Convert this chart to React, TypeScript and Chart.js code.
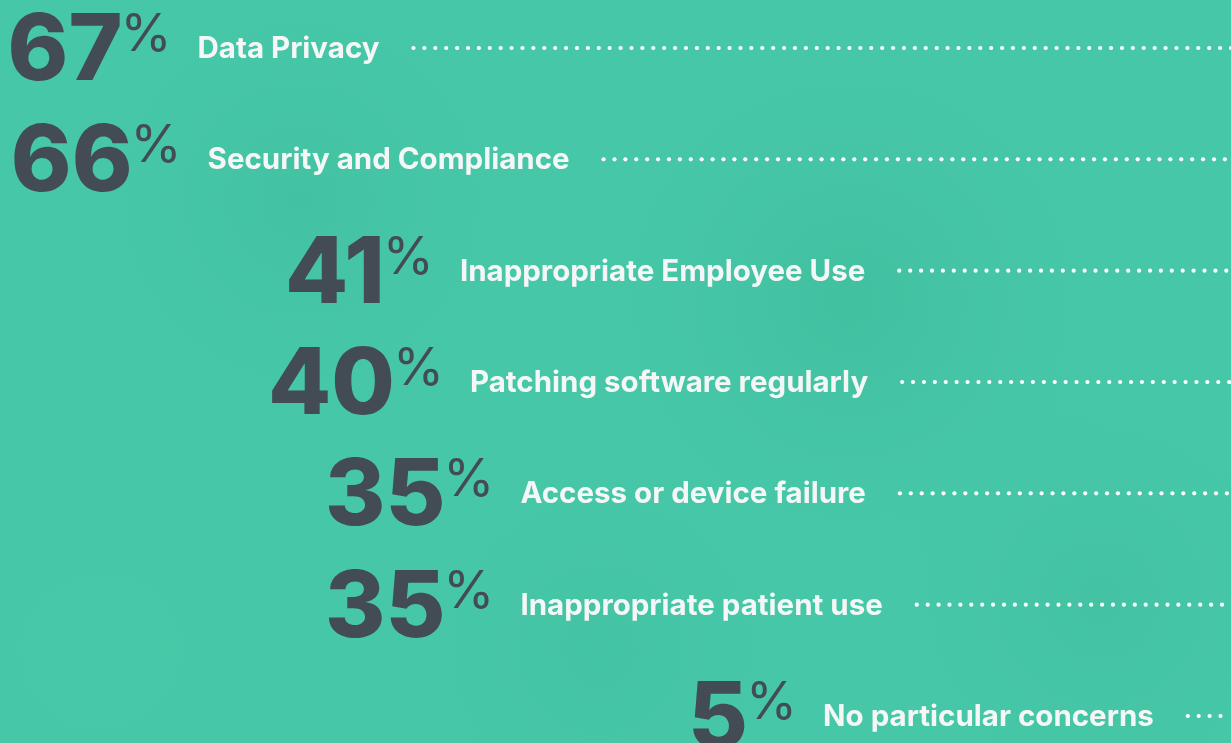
import React, { useEffect, useRef } from "react";
import { Chart, registerables } from "chart.js";

Chart.register(...registerables);

const categories = [
  "Data Privacy",
  "Security and Compliance",
  "Inappropriate Employee Use",
  "Patching software regularly",
  "Access or device failure",
  "Inappropriate patient use",
  "No particular concerns",
];
const values = [67, 66, 41, 40, 35, 35, 5];

const NUM_COLOR = "#434b55";
const LABEL_COLOR = "#f4f7f6";
const BG = "#46c7a7";

const bgPlugin = {
  id: "bgPlugin",
  beforeDraw(chart: any) {
    const { ctx, width, height } = chart;
    ctx.save();
    ctx.fillStyle = BG;
    ctx.fillRect(0, 0, width, height);
    const blobs = [
      [300, 200, 260, "rgba(60,185,152,0.35)"],
      [850, 300, 300, "rgba(58,180,148,0.35)"],
      [1100, 600, 260, "rgba(60,185,152,0.3)"],
      [100, 650, 220, "rgba(74,206,172,0.3)"],
      [600, 650, 240, "rgba(60,185,152,0.25)"],
    ];
    blobs.forEach(([x, y, r, c]: any) => {
      const g = ctx.createRadialGradient(x, y, 0, x, y, r);
      g.addColorStop(0, c);
      g.addColorStop(1, "rgba(70,199,167,0)");
      ctx.fillStyle = g;
      ctx.fillRect(0, 0, width, height);
    });
    ctx.restore();
  },
};

const labelPlugin = {
  id: "labelPlugin",
  afterDatasetsDraw(chart: any) {
    const { ctx, width } = chart;
    const meta = chart.getDatasetMeta(0);
    ctx.save();
    meta.data.forEach((el: any, i: number) => {
      const x = el.x;
      const y = el.y;
      ctx.textAlign = "right";
      ctx.textBaseline = "alphabetic";
      ctx.fillStyle = NUM_COLOR;
      ctx.font = "400 52px Inter";
      const pw = ctx.measureText("%").width;
      ctx.fillText("%", x, y + 4);
      ctx.font = "800 92px Inter";
      ctx.fillText(String(values[i]), x - pw + 2, y + 33);

      ctx.textAlign = "left";
      ctx.fillStyle = LABEL_COLOR;
      ctx.font = "700 29.5px Inter";
      const lx = x + 26;
      ctx.fillText(categories[i], lx, y + 11);
      const lw = ctx.measureText(categories[i]).width;
      ctx.fillStyle = "#ffffff";
      for (let dx = lx + lw + 34; dx < width; dx += 10.9) {
        ctx.beginPath();
        ctx.arc(dx, y + 1, 2.1, 0, Math.PI * 2);
        ctx.fill();
      }
    });
    ctx.restore();
  },
};

export default function App() {
  const ref = useRef<HTMLCanvasElement | null>(null);
  useEffect(() => {
    document.body.style.margin = "0";
    document.body.style.background = BG;
    const chart = new Chart(ref.current as HTMLCanvasElement, {
      type: "bar",
      data: {
        labels: categories,
        datasets: [
          {
            data: values,
            backgroundColor: "rgba(0,0,0,0)",
            borderWidth: 0,
          },
        ],
      },
      options: {
        indexAxis: "y",
        responsive: false,
        animation: false,
        layout: { padding: { top: 47, bottom: 28, left: 0, right: 0 } },
        scales: {
          x: { type: "linear", reverse: true, min: -38, max: 84, display: false },
          y: { display: false, offset: false },
        },
        plugins: { legend: { display: false }, tooltip: { enabled: false } },
      },
      plugins: [bgPlugin, labelPlugin],
    } as any);
    return () => chart.destroy();
  }, []);
  return (
    <div style={{ width: 1231, height: 743, overflow: "hidden" }}>
      <canvas ref={ref} width={1231} height={743} style={{ display: "block" }} />
    </div>
  );
}
